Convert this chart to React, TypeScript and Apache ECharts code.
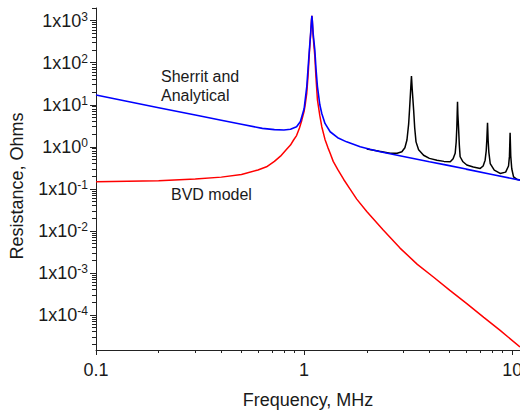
import React, { useEffect, useRef } from "react";
import * as echarts from "echarts";

// Frequency (MHz) and resistance (Ohms)
const BLUE_F = [0.1, 0.2, 0.3, 0.4, 0.5, 0.63, 0.72, 0.8, 0.86, 0.92, 0.96, 1.0, 1.03, 1.045, 1.06, 1.075, 1.085, 1.09, 1.095, 1.105, 1.126, 1.14, 1.159, 1.19, 1.216, 1.26, 1.334, 1.45, 1.6, 1.86, 2.07, 2.32, 3.0, 4.0, 4.85, 6.0, 8.0, 10.9];
const BLUE_R = [17, 8.5, 5.7, 4.3, 3.45, 2.74, 2.56, 2.5, 2.62, 3.0, 4.0, 8.0, 27, 75, 200, 500, 1000, 1300, 1000, 500, 200, 75, 27, 10, 6.2, 3.6, 2.28, 1.65, 1.31, 1.0, 0.87, 0.76, 0.59, 0.44, 0.367, 0.295, 0.22, 0.161];

const RED_F = [0.1, 0.2, 0.3, 0.4, 0.5, 0.6, 0.66, 0.72, 0.77, 0.82, 0.86, 0.89, 0.92, 0.95, 0.975, 1.0, 1.015, 1.03, 1.045, 1.06, 1.075, 1.085, 1.09, 1.095, 1.105, 1.126, 1.14, 1.159, 1.19, 1.216, 1.26, 1.3, 1.334, 1.38, 1.45, 1.55, 1.66, 1.79, 2.0, 2.4, 2.89, 3.5, 4.18, 5.0, 6.05, 7.3, 8.75, 10.9];
const RED_R = [0.147, 0.155, 0.172, 0.19, 0.22, 0.28, 0.334, 0.45, 0.6, 0.85, 1.1, 1.45, 1.85, 2.8, 4.3, 7.0, 11, 19, 50, 170, 480, 1000, 1300, 1000, 430, 140, 45, 13, 5.5, 3.0, 1.5, 0.97, 0.7, 0.45, 0.29, 0.167, 0.1, 0.057, 0.029, 0.0105, 0.0039, 0.0016, 0.0008, 0.00039, 0.000186, 0.000088, 0.000043, 0.0000174];

const BLACK_F = [2.0, 2.3, 2.59, 2.8, 2.95, 3.05, 3.12, 3.18, 3.21, 3.25, 3.28, 3.31, 3.36, 3.4, 3.45, 3.55, 3.75, 4.0, 4.35, 4.7, 5.04, 5.2, 5.32, 5.38, 5.42, 5.44, 5.46, 5.48, 5.52, 5.57, 5.62, 5.8, 6.05, 6.5, 7.02, 7.25, 7.41, 7.5, 7.55, 7.61, 7.66, 7.72, 7.84, 8.2, 8.75, 9.3, 9.6, 9.7, 9.77, 9.84, 9.95, 10.15, 10.5, 10.9];
const BLACK_R = [0.89, 0.78, 0.7, 0.7, 0.76, 0.95, 1.45, 3.5, 7.5, 22, 48, 22, 7.5, 2.8, 1.31, 0.85, 0.63, 0.53, 0.48, 0.45, 0.44, 0.52, 0.7, 1.3, 3.0, 6.0, 11.8, 6.0, 3.0, 1.1, 0.58, 0.44, 0.37, 0.33, 0.306, 0.35, 0.48, 0.8, 1.45, 3.72, 1.45, 0.75, 0.4, 0.28, 0.233, 0.25, 0.35, 0.6, 2.15, 0.6, 0.3, 0.193, 0.17, 0.162];

const X_MIN = 0.1;
const X_MAX = 10.9;
const Y_MIN = 0.0000147;
const Y_MAX = 2000;
const X_DECADES = [-1, 0, 1];
const X_LABELS = ["0.1", "1", "10"];
const Y_DECADES = [-4, -3, -2, -1, 0, 1, 2, 3];

const FONT = "'Liberation Sans', Arial, sans-serif";
const TXT = "#1a1a1a";

function minorTicks(lo: number, hi: number): number[] {
  const out: number[] = [];
  for (let d = Math.floor(lo) - 1; d <= Math.ceil(hi); d++) {
    for (let k = 2; k <= 9; k++) {
      const v = Math.log10(k) + d;
      if (v >= lo - 1e-9 && v <= hi + 1e-9) out.push(v);
    }
  }
  return out;
}

function toPairs(f: number[], r: number[]) {
  return f.map((v, i) => [Math.log10(v), Math.log10(r[i])]);
}

export default function App() {
  const ref = useRef<HTMLDivElement>(null);
  useEffect(() => {
    if (!ref.current) return;
    const chart = echarts.init(ref.current, undefined, { renderer: "svg" });
    const xmin = Math.log10(X_MIN);
    const xmax = Math.log10(X_MAX);
    const ymin = Math.log10(Y_MIN);
    const ymax = Math.log10(Y_MAX);
    const axisColor = "#222";
    chart.setOption({
      animation: false,
      grid: { left: 96, right: 0, top: 8, bottom: 61, containLabel: false, outerBoundsMode: "none" },
      xAxis: [
        {
          type: "value",
          min: xmin,
          max: xmax,
          name: "Frequency, MHz",
          nameLocation: "middle",
          nameGap: 41,
          nameTextStyle: { fontFamily: FONT, fontSize: 18, color: TXT },
          axisLine: { show: true, onZero: false, lineStyle: { color: axisColor, width: 1 } },
          axisTick: { show: true, length: 5, customValues: X_DECADES, lineStyle: { color: axisColor } },
          axisLabel: {
            customValues: X_DECADES,
            margin: 11,
            fontFamily: FONT,
            fontSize: 18,
            color: TXT,
            formatter: (v: number) => X_LABELS[X_DECADES.indexOf(Math.round(v))] ?? "",
          },
          splitLine: { show: false },
        },
        {
          type: "value",
          min: xmin,
          max: xmax,
          position: "bottom",
          axisLine: { show: false, onZero: false },
          axisTick: { show: true, length: 3, customValues: minorTicks(xmin, xmax), lineStyle: { color: axisColor } },
          axisLabel: { show: false },
          splitLine: { show: false },
        },
      ],
      yAxis: [
        {
          type: "value",
          min: ymin,
          max: ymax,
          axisLine: { show: true, onZero: false, lineStyle: { color: axisColor, width: 1 } },
          axisTick: { show: true, length: 6, customValues: Y_DECADES, lineStyle: { color: axisColor } },
          axisLabel: {
            customValues: Y_DECADES,
            margin: 8,
            formatter: (v: number) => `{b|1x10}{s|${Math.round(v)}}`,
            rich: {
              b: { fontFamily: FONT, fontSize: 18, color: TXT, lineHeight: 20 },
              s: { fontFamily: FONT, fontSize: 12, color: TXT, lineHeight: 12, verticalAlign: "top" },
            },
          },
          splitLine: { show: false },
        },
        {
          type: "value",
          min: ymin,
          max: ymax,
          position: "left",
          axisLine: { show: false, onZero: false },
          axisTick: { show: true, length: 4, customValues: minorTicks(ymin, ymax), lineStyle: { color: axisColor } },
          axisLabel: { show: false },
          splitLine: { show: false },
        },
      ],
      graphic: [
        {
          type: "text",
          x: 17,
          y: 186,
          rotation: Math.PI / 2,
          style: { text: "Resistance, Ohms", font: `18px ${FONT}`, fill: TXT, align: "center", verticalAlign: "middle" },
        },
        {
          type: "text",
          x: 161,
          y: 76,
          style: { text: "Sherrit and", font: `16px ${FONT}`, fill: TXT, align: "left", verticalAlign: "middle" },
        },
        {
          type: "text",
          x: 161,
          y: 95,
          style: { text: "Analytical", font: `16px ${FONT}`, fill: TXT, align: "left", verticalAlign: "middle" },
        },
        {
          type: "text",
          x: 171,
          y: 194.5,
          style: { text: "BVD model", font: `16px ${FONT}`, fill: TXT, align: "left", verticalAlign: "middle" },
        },
      ],
      series: [
        {
          type: "line",
          name: "BVD model",
          data: toPairs(RED_F, RED_R),
          showSymbol: false,
          symbol: "none",
          lineStyle: { color: "#ff0000", width: 1.5 },
          z: 2,
        },
        {
          type: "line",
          name: "Harmonics",
          data: toPairs(BLACK_F, BLACK_R),
          showSymbol: false,
          symbol: "none",
          lineStyle: { color: "#000000", width: 1.5 },
          z: 3,
        },
        {
          type: "line",
          name: "Sherrit and Analytical",
          data: toPairs(BLUE_F, BLUE_R),
          showSymbol: false,
          symbol: "none",
          lineStyle: { color: "#0000ff", width: 1.6 },
          z: 4,
        },
      ],
    });
    return () => chart.dispose();
  }, []);
  return (
    <div
      ref={ref}
      style={{ position: "fixed", left: 0, top: 0, width: 520, height: 411, background: "#fff" }}
    />
  );
}
